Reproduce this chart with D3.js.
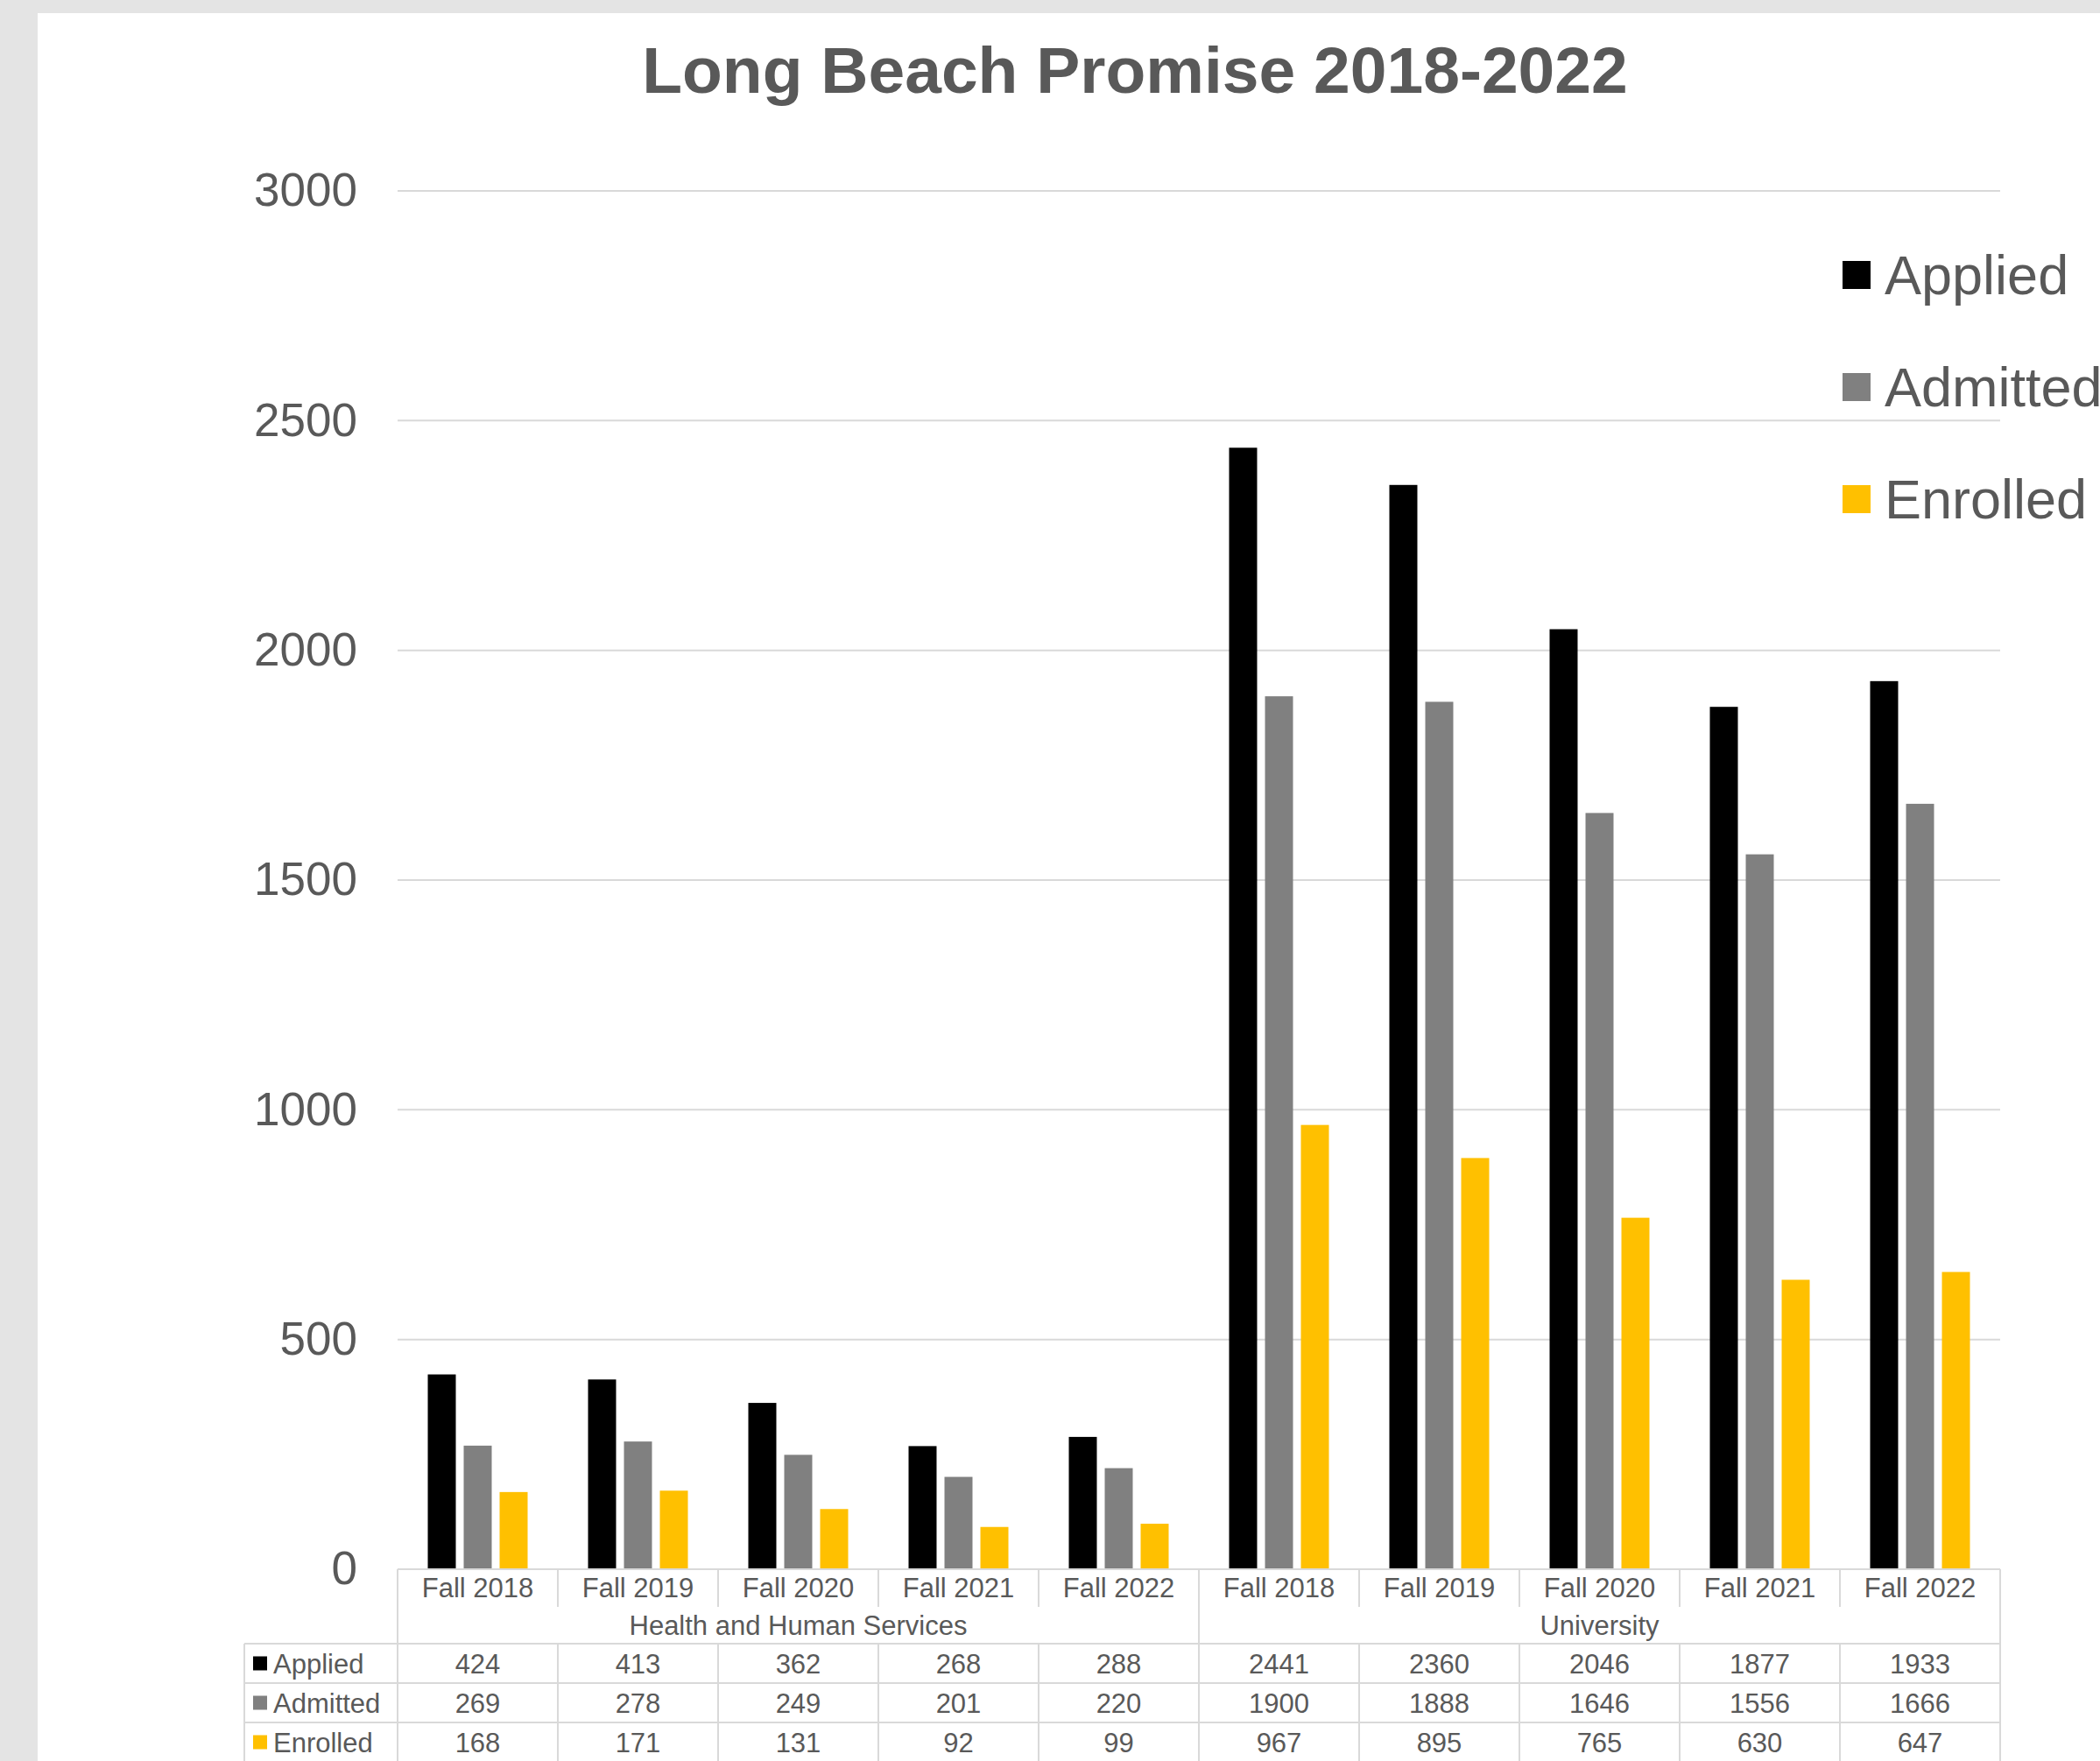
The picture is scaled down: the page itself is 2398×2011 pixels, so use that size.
<!DOCTYPE html>
<html>
<head>
<meta charset="utf-8">
<script src="https://cdn.jsdelivr.net/npm/d3@7"></script>
<style>
  html, body { margin: 0; padding: 0; background: #e4e4e4; }
  svg { display: block; }
  text { font-family: "Liberation Sans", Arial, sans-serif; fill: #595959; }
</style>
</head>
<body>
<div id="chart"></div>
<script>
(function () {
  'use strict';

  // chart data
  const groups = ['Health and Human Services', 'University'];
  const years = ['Fall 2018', 'Fall 2019', 'Fall 2020', 'Fall 2021', 'Fall 2022'];
  const seriesNames = ['Applied', 'Admitted', 'Enrolled'];
  const applied = [424, 413, 362, 268, 288, 2441, 2360, 2046, 1877, 1933];
  const admitted = [269, 278, 249, 201, 220, 1900, 1888, 1646, 1556, 1666];
  const enrolled = [168, 171, 131, 92, 99, 967, 895, 765, 630, 647];
  const yTicks = [0, 500, 1000, 1500, 2000, 2500, 3000];

  const W = 2398, H = 2011;
  const left = 454, right = 2284, top = 218, bottom = 1792;
  const grid = '#d9d9d9';
  const rowH = 45;

  const categories = [];
  groups.forEach((gName) => years.forEach((y) => categories.push({ group: gName, year: y })));
  const values = [applied, admitted, enrolled];

  const color = d3.scaleOrdinal().domain(seriesNames).range(['#000000', '#808080', '#ffc000']);

  const svg = d3.select('#chart').append('svg')
    .attr('width', W).attr('height', H);

  svg.append('rect').attr('x', 43).attr('y', 15)
    .attr('width', W - 43).attr('height', H - 15).attr('fill', '#ffffff');

  svg.append('text')
    .attr('x', 1296).attr('y', 106)
    .attr('text-anchor', 'middle')
    .style('font-size', '75px').style('font-weight', 'bold')
    .text('Long Beach Promise 2018-2022');

  const x0 = d3.scaleBand().domain(d3.range(categories.length)).range([left, right]).padding(0);
  const bw = x0.bandwidth();
  const x1 = d3.scaleBand().domain(seriesNames)
    .range([bw / 2 - 57, bw / 2 + 57]).paddingInner(0.22).paddingOuter(0);
  const y = d3.scaleLinear().domain([0, 3000]).range([bottom, top]);

  // gridlines
  svg.append('g').selectAll('line').data(yTicks).enter().append('line')
    .attr('x1', left).attr('x2', right)
    .attr('y1', (d) => y(d)).attr('y2', (d) => y(d))
    .attr('stroke', grid).attr('stroke-width', 2);

  // y axis labels
  const yAxis = svg.append('g')
    .attr('transform', `translate(${left},0)`)
    .call(d3.axisLeft(y).tickValues(yTicks).tickFormat(d3.format('d')).tickSize(0).tickPadding(46));
  yAxis.select('.domain').remove();
  yAxis.selectAll('text')
    .attr('fill', '#595959')
    .style('font-family', '"Liberation Sans", Arial, sans-serif')
    .style('font-size', '53px');

  // bars
  const cat = svg.append('g').selectAll('g').data(categories).enter().append('g')
    .attr('transform', (d, i) => `translate(${x0(i)},0)`);
  cat.selectAll('rect')
    .data((d, i) => seriesNames.map((s, k) => ({ s, v: values[k][i] })))
    .enter().append('rect')
    .attr('x', (d) => x1(d.s))
    .attr('width', x1.bandwidth())
    .attr('y', (d) => y(d.v))
    .attr('height', (d) => y(0) - y(d.v))
    .attr('fill', (d) => color(d.s));

  // legend (runs off the right edge, as in the source)
  const legend = svg.append('g').selectAll('g').data(seriesNames).enter().append('g')
    .attr('transform', (d, i) => `translate(2104,${298 + i * 128})`);
  legend.append('rect').attr('width', 32).attr('height', 32).attr('fill', (d) => color(d));
  legend.append('text').attr('x', 48).attr('y', 38)
    .style('font-size', '63px').text((d) => d);

  // category axis + data table
  const tbl = svg.append('g');
  const catRowEnd = bottom + 43;
  const groupRowEnd = bottom + 85;
  const tblBottom = groupRowEnd + rowH * 3;
  const line = (x1p, y1p, x2p, y2p) => tbl.append('line')
    .attr('x1', x1p).attr('y1', y1p).attr('x2', x2p).attr('y2', y2p)
    .attr('stroke', grid).attr('stroke-width', 2);

  line(left, bottom, right, bottom);
  for (let i = 0; i <= categories.length; i++) {
    const xv = i === categories.length ? right : x0(i);
    if (i % years.length === 0) {
      line(xv, bottom, xv, tblBottom);
    } else {
      line(xv, bottom, xv, catRowEnd);
      line(xv, groupRowEnd, xv, tblBottom);
    }
  }
  line(279, groupRowEnd, 279, tblBottom);
  for (let r = 0; r <= 3; r++) {
    line(279, groupRowEnd + r * rowH, right, groupRowEnd + r * rowH);
  }

  tbl.selectAll('.yr').data(categories).enter().append('text')
    .attr('x', (d, i) => x0(i) + bw / 2).attr('y', bottom + 32)
    .attr('text-anchor', 'middle').style('font-size', '31px')
    .text((d) => d.year);

  tbl.selectAll('.grp').data(groups).enter().append('text')
    .attr('x', (d, i) => x0(i * years.length) + bw * years.length / 2)
    .attr('y', bottom + 75)
    .attr('text-anchor', 'middle').style('font-size', '31px')
    .text((d) => d);

  seriesNames.forEach((s, k) => {
    const cy = groupRowEnd + k * rowH + rowH / 2;
    tbl.append('rect').attr('x', 289).attr('y', cy - 8)
      .attr('width', 16).attr('height', 16).attr('fill', color(s));
    tbl.append('text').attr('x', 312).attr('y', cy + 11)
      .style('font-size', '31px').text(s);
    tbl.selectAll('.v' + k).data(values[k]).enter().append('text')
      .attr('x', (d, i) => x0(i) + bw / 2).attr('y', cy + 11)
      .attr('text-anchor', 'middle').style('font-size', '31px')
      .text((d) => d);
  });
})();
</script>
</body>
</html>
